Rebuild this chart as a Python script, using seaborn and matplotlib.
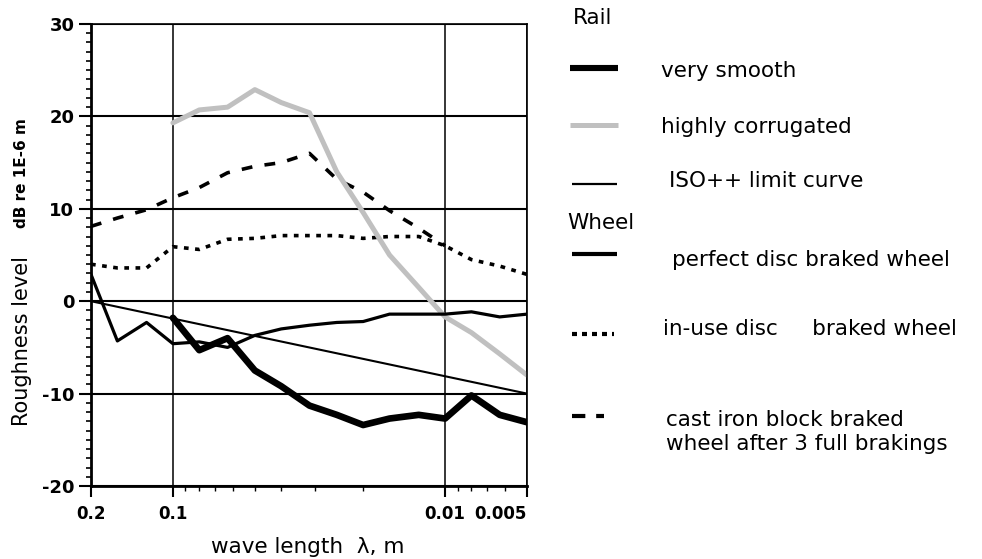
import numpy as np
import pandas as pd
import matplotlib
matplotlib.use("Agg")
import matplotlib.pyplot as plt
from matplotlib.lines import Line2D
from matplotlib.ticker import LogLocator, NullFormatter, MultipleLocator
import seaborn as sns

# ---------------- data ----------------
bands = [0.2, 0.16, 0.125, 0.1, 0.08, 0.063, 0.05, 0.04, 0.0315, 0.025,
         0.02, 0.016, 0.0125, 0.01, 0.008, 0.0063, 0.005]

very_smooth = [-1.8, -5.3, -4.0, -7.5, -9.2, -11.3, -12.3, -13.4, -12.7,
               -12.3, -12.7, -10.2, -12.3, -13.1]            # from 0.1
highly_corrugated = [19.3, 20.7, 21.0, 22.9, 21.5, 20.4, 14.0, 9.6, 5.0,
                     1.5, -1.7, -3.4, -5.7, -8.0]             # from 0.1
iso_x = [0.2, 0.005]
iso_limit = [0.0, -10.0]
perfect_disc = [2.9, -4.3, -2.3, -4.6, -4.4, -5.0, -3.7, -3.0, -2.6, -2.3,
                -2.2, -1.4, -1.4, -1.4, -1.15, -1.7, -1.4]
in_use_disc = [4.0, 3.6, 3.6, 5.9, 5.6, 6.7, 6.8, 7.1, 7.1, 7.1, 6.8, 7.0,
               7.0, 6.0, 4.5, 3.8, 2.9]
cast_iron = [8.1, 9.0, 9.9, 11.2, 12.3, 13.9, 14.6, 15.0, 16.0, 13.2, 11.8,
             9.8, 7.9, 6.0]                                   # 0.2 .. 0.01

x_ticks = [0.2, 0.1, 0.01, 0.005]
x_tick_labels = ["0.2", "0.1", "0.01", "0.005"]
y_ticks = [-20, -10, 0, 10, 20, 30]

GREY = "#c0c0c0"

# ---------------- figure ----------------
sns.set_style("ticks")
plt.rcParams["font.family"] = ["DejaVu Sans"]
plt.rcParams["axes.unicode_minus"] = False
plt.rcParams["text.color"] = "black"
plt.rcParams["xtick.color"] = "black"
plt.rcParams["ytick.color"] = "black"

fig = plt.figure(figsize=(9.82, 5.59), dpi=100)
W, H = 982, 559
def fx(px): return px / W
def fy(py): return 1 - py / H

ax = fig.add_axes([fx(91), fy(486), fx(527) - fx(91), fy(24) - fy(486)])

df_vs = pd.DataFrame({"x": bands[3:], "y": very_smooth})
df_hc = pd.DataFrame({"x": bands[3:], "y": highly_corrugated})
df_iso = pd.DataFrame({"x": iso_x, "y": iso_limit})
df_pd = pd.DataFrame({"x": bands, "y": perfect_disc})
df_iu = pd.DataFrame({"x": bands, "y": in_use_disc})
df_ci = pd.DataFrame({"x": bands[:len(cast_iron)], "y": cast_iron})

ax.set_xscale("log")

sns.lineplot(data=df_ci, x="x", y="y", ax=ax, color="black", lw=2.6,
             linestyle=(0, (3.0, 3.4)), estimator=None, sort=False)
sns.lineplot(data=df_iu, x="x", y="y", ax=ax, color="black", lw=2.6,
             linestyle=(0, (1.3, 1.8)), estimator=None, sort=False)
sns.lineplot(data=df_hc, x="x", y="y", ax=ax, color=GREY, lw=3.6,
             estimator=None, sort=False)
sns.lineplot(data=df_iso, x="x", y="y", ax=ax, color="black", lw=1.5,
             estimator=None, sort=False)
sns.lineplot(data=df_pd, x="x", y="y", ax=ax, color="black", lw=2.3,
             estimator=None, sort=False)
sns.lineplot(data=df_vs, x="x", y="y", ax=ax, color="black", lw=4.8,
             estimator=None, sort=False)

ax.set_xlim(0.2, 0.005)
ax.set_ylim(-20, 30)

ax.set_xticks(x_ticks)
ax.set_xticklabels(x_tick_labels)
ax.xaxis.set_minor_locator(LogLocator(base=10, subs=np.arange(2, 10), numticks=30))
ax.xaxis.set_minor_formatter(NullFormatter())
ax.set_yticks(y_ticks)
ax.yaxis.set_minor_locator(MultipleLocator(1))

for lab in ax.get_yticklabels():
    lab.set_fontweight("bold")
    lab.set_fontsize(13)
for lab in ax.get_xticklabels():
    lab.set_fontweight("bold")
    lab.set_fontsize(12)
ax.get_xticklabels()[-1].set_horizontalalignment("right")

ax.tick_params(axis="both", which="both", left=True, bottom=True,
               top=False, right=False)
ax.tick_params(axis="y", which="major", direction="out", length=9, width=1.5, pad=3)
ax.tick_params(axis="y", which="minor", direction="out", length=3.6, width=1.2)
ax.tick_params(axis="x", which="major", direction="out", length=8, width=1.5, pad=6)
ax.tick_params(axis="x", which="minor", direction="out", length=3.5, width=1.0)

ax.grid(True, which="major", axis="y", color="black", lw=1.5)
ax.grid(True, which="major", axis="x", color="black", lw=1.1)
ax.set_axisbelow(True)

for side in ["left", "bottom"]:
    ax.spines[side].set_linewidth(2.0)
    ax.spines[side].set_color("black")
for side in ["top", "right"]:
    ax.spines[side].set_linewidth(1.2)
    ax.spines[side].set_color("black")
    ax.spines[side].set_visible(True)

ax.set_xlabel("")
ax.set_ylabel("")

# axis labels
fig.text(fx(308), fy(547), "wave length  \u03bb, m", ha="center", va="center",
         fontsize=15.5)
fig.text(fx(22), fy(341), "Roughness level", rotation=90, ha="center",
         va="center", fontsize=15)
fig.text(fx(22), fy(173), "dB re 1E-6 m", rotation=90, ha="center",
         va="center", fontsize=11, fontweight="bold")

# ---------------- legend (manual) ----------------
LFS = 15.5
fig.text(fx(573), fy(18), "Rail", ha="left", va="center", fontsize=LFS)
fig.text(fx(567), fy(223), "Wheel", ha="left", va="center", fontsize=LFS)

entries = [
    # (sample x0, x1, y, style kwargs, text x, text y, text)
    (570, 618, 68, dict(color="black", lw=4.4), 661, 71, "very smooth"),
    (570, 618, 125, dict(color=GREY, lw=3.6), 661, 127, "highly corrugated"),
    (572, 617, 184, dict(color="black", lw=1.6), 669, 181, "ISO++ limit curve"),
    (572, 617, 254, dict(color="black", lw=3.0), 672, 260, "perfect disc braked wheel"),
    (572, 614, 334, dict(color="black", lw=3.0, linestyle=(0, (1.2, 1.2))),
     663, 329, "in-use disc     braked wheel"),
    (572, 604, 416, dict(color="black", lw=3.0, linestyle=(0, (3.2, 2.6))),
     666, 432, "cast iron block braked\nwheel after 3 full brakings"),
]
for x0, x1, y, kw, tx, ty, txt in entries:
    fig.add_artist(Line2D([fx(x0), fx(x1)], [fy(y), fy(y)],
                          transform=fig.transFigure, solid_capstyle="butt",
                          dash_capstyle="butt", **kw))
    fig.text(fx(tx), fy(ty), txt, ha="left", va="center", fontsize=LFS,
             linespacing=1.2)

fig.savefig("out.png", dpi=100)
